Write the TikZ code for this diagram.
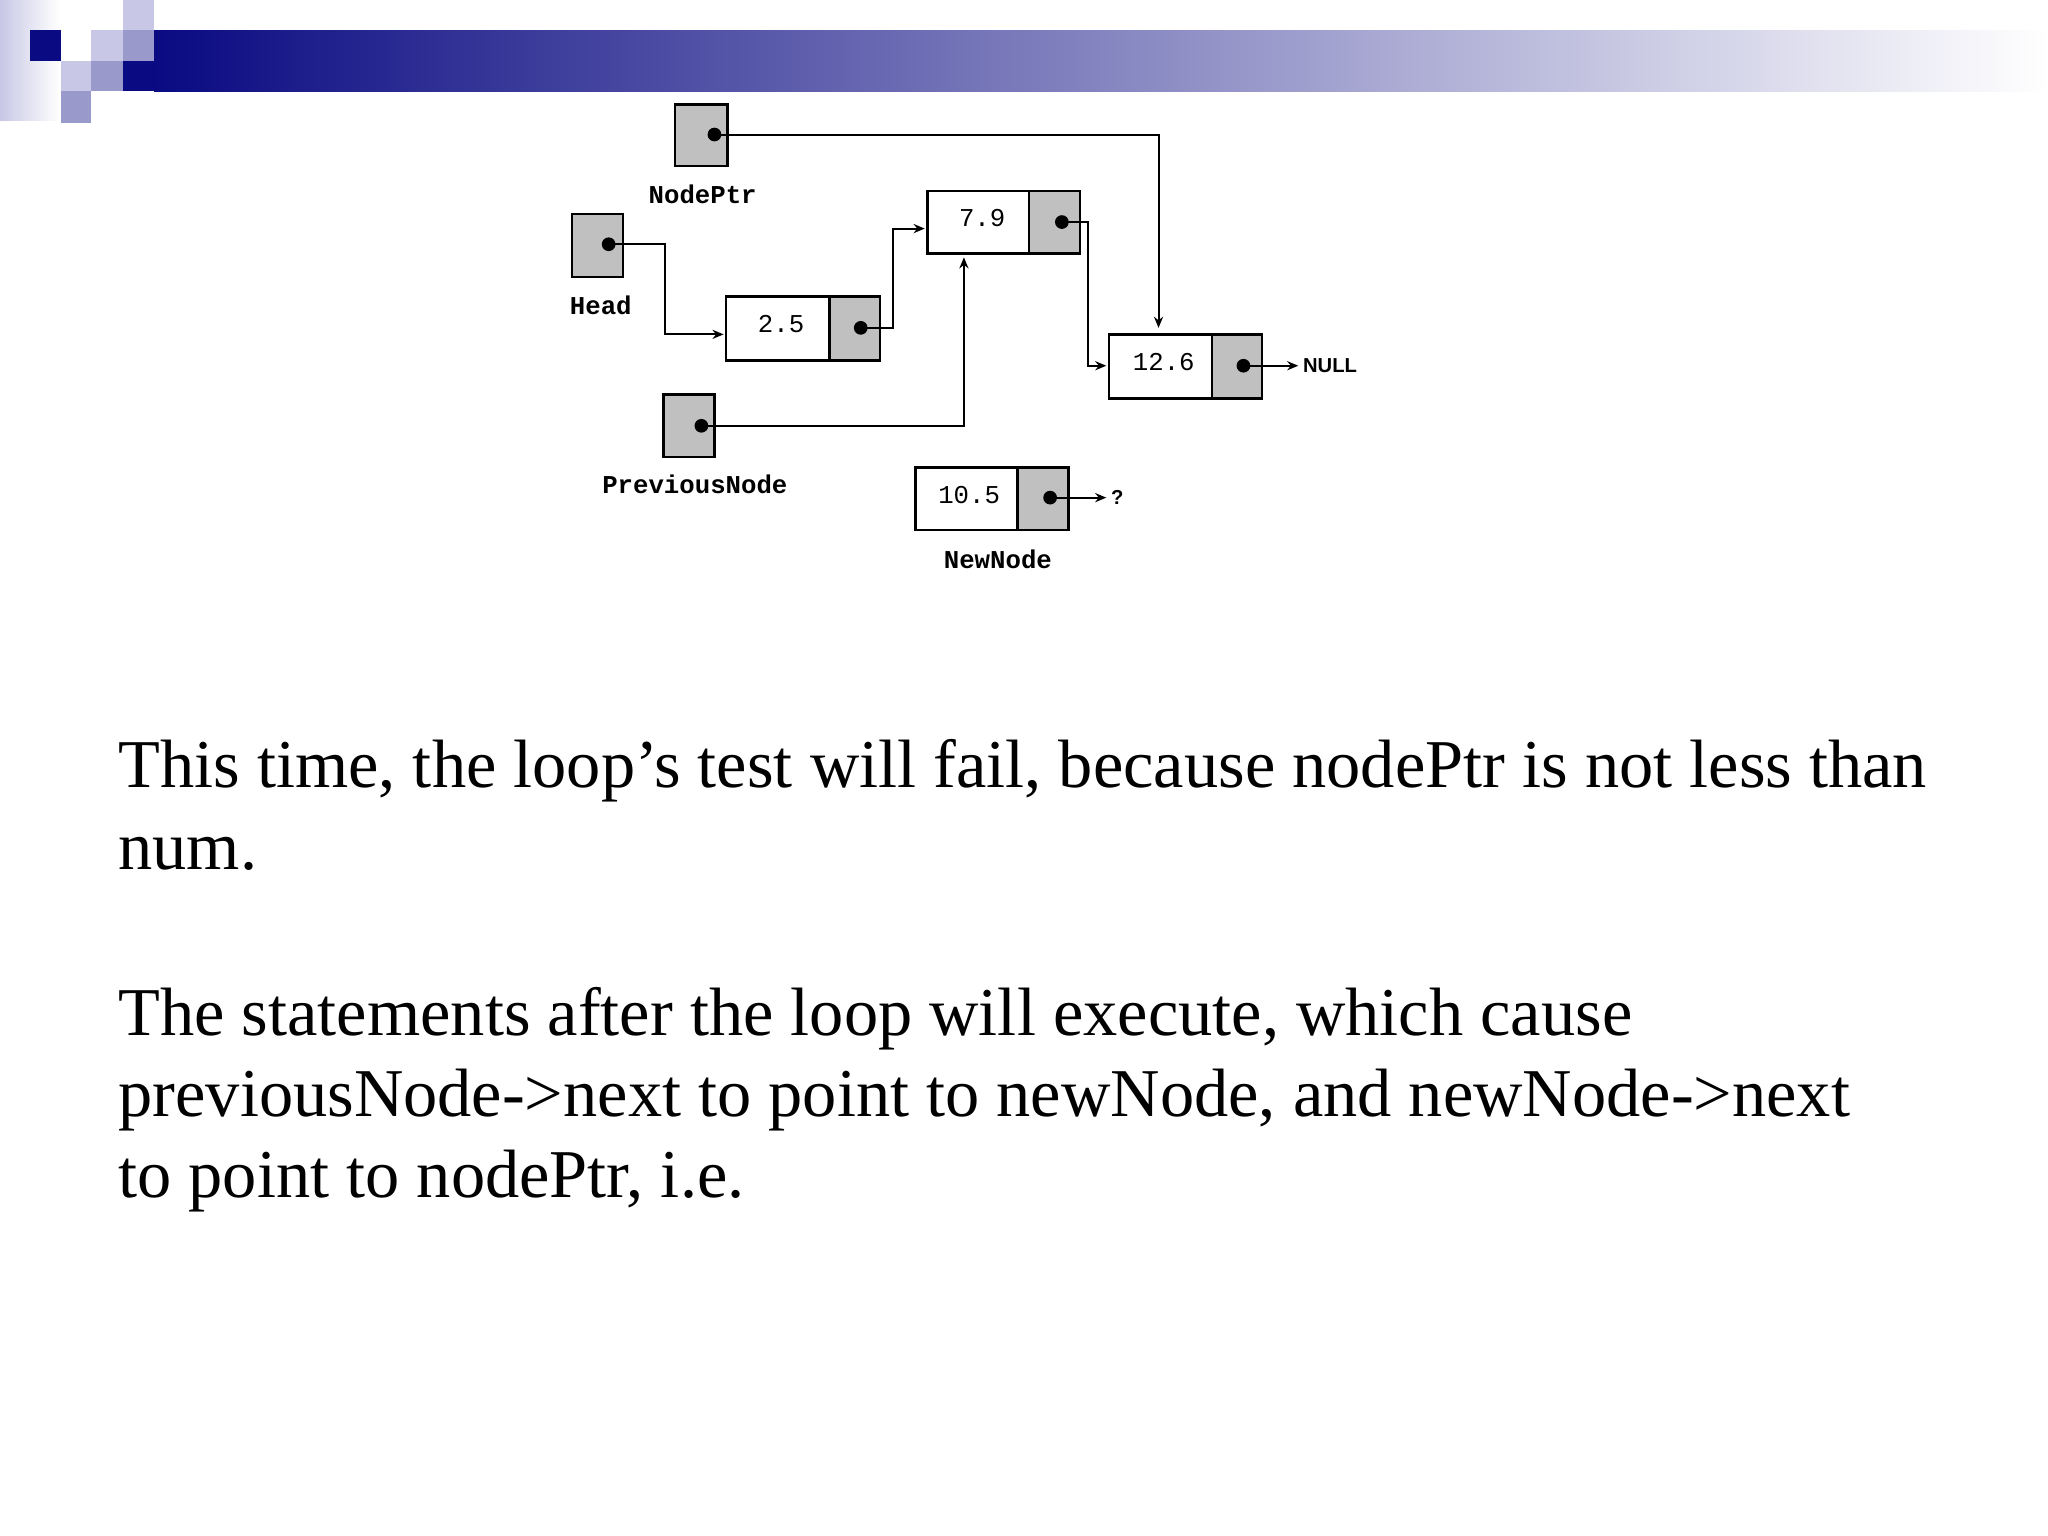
\documentclass[tikz,border=0pt]{standalone}
\usepackage{fontspec}
\setmainfont{Liberation Serif}
\newfontfamily\monof{Liberation Mono}
\newfontfamily\sansf{Liberation Sans}
\usetikzlibrary{arrows.meta}
\definecolor{navy}{RGB}{10,10,130}
\definecolor{lightb}{RGB}{200,200,230}
\definecolor{medb}{RGB}{153,153,204}
\definecolor{boxg}{RGB}{192,192,192}
\tikzset{
  cell/.style={draw=black,line width=0.5pt},
  ptr/.style={cell,fill=boxg},
  dotm/.style={circle,fill=black,inner sep=0pt,minimum size=1.05mm},
  lbl/.style={font=\monof\bfseries\fontsize{5.6}{6}\selectfont,inner sep=0pt},
  val/.style={font=\monof\fontsize{5.6}{6}\selectfont,inner sep=0pt},
  conn/.style={line width=0.45pt,-{Stealth[length=0.85mm,width=0.7mm]}},
  body/.style={font=\fontsize{14.9}{18}\selectfont,anchor=base west,inner sep=0pt},
  small/.style={font=\sansf\bfseries\fontsize{4.4}{5}\selectfont,anchor=west,inner sep=0pt}
}
\begin{document}
\begin{tikzpicture}[x=0.1mm,y=-0.1mm]
\useasboundingbox (0,0) rectangle (1568,1176);
\fill[white] (0,0) rectangle (1568,1176);
% header
\shade[left color=lightb,right color=white] (0,0) rectangle (46,92);
\shade[left color=navy,right color=white] (118,23) rectangle (1568,70);
\fill[navy] (23,23) rectangle (47,47);
\fill[lightb] (94,0) rectangle (118,23);
\fill[lightb] (70,23) rectangle (94,47);
\fill[medb] (94,23) rectangle (118,47);
\fill[lightb] (47,47) rectangle (70,70);
\fill[medb] (70,47) rectangle (94,70);
\fill[navy] (94,47) rectangle (118,70);
\fill[medb] (47,70) rectangle (70,94);
% pointer boxes
\draw[ptr] (517,80) rectangle (557,127);
\node[dotm] (npd) at (547,103) {};
\node[lbl] (npl) at (538,149) {NodePtr};
\draw[ptr] (438,164) rectangle (477,212);
\node[dotm] (hd) at (466,187) {};
\node[lbl] (hl) at (460,234) {Head};
\draw[ptr] (508,302) rectangle (547,350);
\node[dotm] (pd) at (537,326) {};
\node[lbl] (pl) at (532,371) {PreviousNode};
% list nodes
\draw[cell] (556,227) rectangle (635,276); \draw[ptr] (635,227) rectangle (674,276);
\node[val] (v25) at (598,248) {2.5}; \node[dotm] (d25) at (659,251) {};
\coordinate (in25) at (554,256);
\draw[cell] (710,146) rectangle (788,194); \draw[ptr] (788,146) rectangle (827,194);
\node[val] (v79) at (752,167) {7.9}; \node[dotm] (d79) at (813,170) {};
\coordinate (in79) at (708,175); \coordinate (bot79) at (738,197);
\draw[cell] (849,256) rectangle (928,305); \draw[ptr] (928,256) rectangle (966,305);
\node[val] (v126) at (891,277) {12.6}; \node[dotm] (d126) at (952,280) {};
\coordinate (in126) at (847,280); \coordinate (top126) at (887,251);
\node[small] (null) at (997,280) {NULL};
\coordinate (nullin) at (994,280);
\draw[cell] (701,358) rectangle (779,406); \draw[ptr] (779,358) rectangle (818,406);
\node[val] (v105) at (742,379) {10.5}; \node[dotm] (d105) at (804,381) {};
\node[small] (q) at (850,381) {?};
\coordinate (qin) at (847,381);
\node[lbl] (nnl) at (764,428) {NewNode};
% connectors
\draw[conn] (npd.center) -- (887,103) -- (top126);
\draw[conn] (hd.center) -- (509,187) -- (509,256) -- (in25);
\draw[conn] (d25.center) -- (684,251) -- (684,175) -- (in79);
\draw[conn] (d79.center) -- (833,170) -- (833,280) -- (in126);
\draw[conn] (pd.center) -- (738,326) -- (bot79);
\draw[conn] (d126.center) -- (nullin);
\draw[conn] (d105.center) -- (qin);
% text
\node[body] (t1) at (90,603) {This time, the loop’s test will fail, because nodePtr is not less than};
\node[body] (t2) at (90,666) {num.};
\node[body] (t3) at (90,793) {The statements after the loop will execute, which cause};
\node[body] (t4) at (90,855) {previousNode->next to point to newNode, and newNode->next};
\node[body] (t5) at (90,917) {to point to nodePtr, i.e.};
\end{tikzpicture}
\end{document}
